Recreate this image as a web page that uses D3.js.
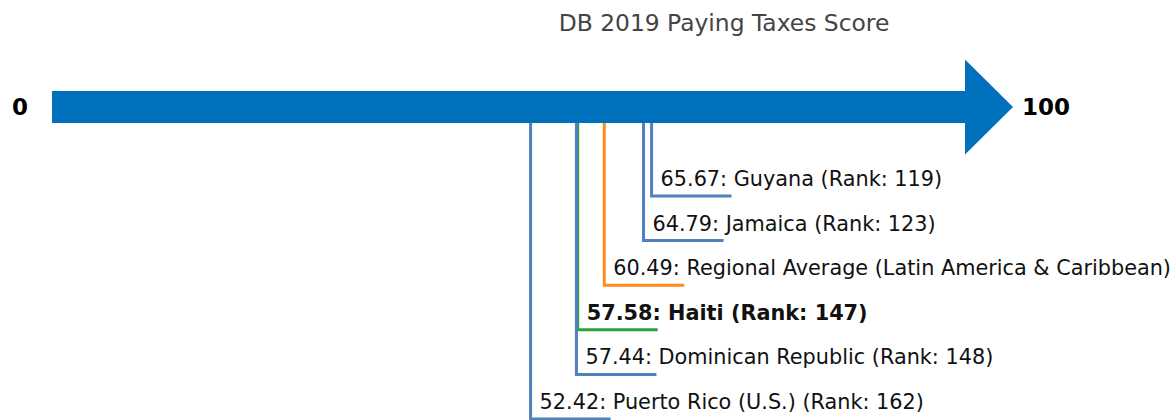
<!DOCTYPE html>
<html>
<head>
<meta charset="utf-8">
<script src="https://cdn.jsdelivr.net/npm/d3@7"></script>
<style>
  body { margin: 0; background: #fff; }
  svg { font-family: "DejaVu Sans", sans-serif; }
</style>
</head>
<body>
<svg id="chart" width="1175" height="420"></svg>
<script>
'use strict';
let names = ["Guyana", "Jamaica", "Regional Average (Latin America & Caribbean)", "Haiti", "Dominican Republic", "Puerto Rico (U.S.)"];
let scores = [65.67, 64.79, 60.49, 57.58, 57.44, 52.42];
let ranks = [119, 123, null, 147, 148, 162];
let kinds = ["peer", "peer", "region", "focus", "peer", "peer"];
let axisEnds = [0, 100];
let title = "DB 2019 Paying Taxes Score";

function getConfig() {
    let svg = d3.select("#chart");
    let arrowY = 107, shaftH = 32, headH = 95, headW = 48;
    return { svg, arrowY, shaftH, headH, headW };
}

function getScales() {
    let xScale = d3.scaleLinear().domain(axisEnds).range([52, 965]);
    let yScale = d3.scalePoint().domain(names).range([196, 419]);
    let cScale = d3.scaleOrdinal().domain(["peer", "region", "focus"])
        .range(["#4f81bd", "#ff8a1e", "#2ca243"]);
    return { xScale, yScale, cScale };
}

function drawArrow(config, scales) {
    let { svg, arrowY, shaftH, headH, headW } = config;
    let { xScale } = scales;
    let x0 = xScale(axisEnds[0]), x1 = xScale(axisEnds[1]);

    svg.append("rect")
        .attr("x", x0)
        .attr("y", arrowY - shaftH / 2)
        .attr("width", x1 - x0)
        .attr("height", shaftH)
        .attr("fill", "#0071bc");

    svg.append("path")
        .attr("d", d3.line()([[x1, arrowY - headH / 2], [x1 + headW, arrowY], [x1, arrowY + headH / 2]]) + "Z")
        .attr("fill", "#0071bc");

    svg.append("text")
        .attr("x", 20)
        .attr("y", arrowY)
        .attr("dy", "0.36em")
        .attr("text-anchor", "middle")
        .style("font-size", "23px")
        .style("font-weight", "bold")
        .text(axisEnds[0]);

    svg.append("text")
        .attr("x", x1 + headW + 9)
        .attr("y", arrowY)
        .attr("dy", "0.36em")
        .style("font-size", "23px")
        .style("font-weight", "bold")
        .text(axisEnds[1]);

    svg.append("text")
        .attr("x", 724)
        .attr("y", 31)
        .attr("text-anchor", "middle")
        .style("font-size", "23.4px")
        .attr("fill", "#444")
        .text(title);
}

function drawMarkers(config, scales) {
    let { svg, arrowY, shaftH } = config;
    let { xScale, yScale, cScale } = scales;
    let rows = names.map((n, i) => ({ name: n, score: scores[i], rank: ranks[i], kind: kinds[i] }));

    let g = svg.selectAll(".marker")
        .data(rows)
        .enter()
        .append("g")
        .attr("class", "marker");

    g.append("path")
        .attr("d", d => {
            let x = xScale(d.score), y = yScale(d.name);
            return "M" + x + "," + (arrowY + shaftH / 2) + "V" + y + "H" + (x + 80);
        })
        .attr("fill", "none")
        .attr("stroke", d => cScale(d.kind))
        .attr("stroke-width", 3);

    g.append("text")
        .attr("x", d => xScale(d.score) + 9)
        .attr("y", d => yScale(d.name) - 10)
        .style("font-size", "20.8px")
        .style("font-weight", d => d.kind == "focus" ? "bold" : "normal")
        .attr("fill", "#111")
        .text(d => d.score.toFixed(2) + ": " + d.name + (d.rank ? " (Rank: " + d.rank + ")" : ""));
}

function drawChart() {
    let config = getConfig();
    let scales = getScales();
    drawArrow(config, scales);
    drawMarkers(config, scales);
}

drawChart();
</script>
</body>
</html>
